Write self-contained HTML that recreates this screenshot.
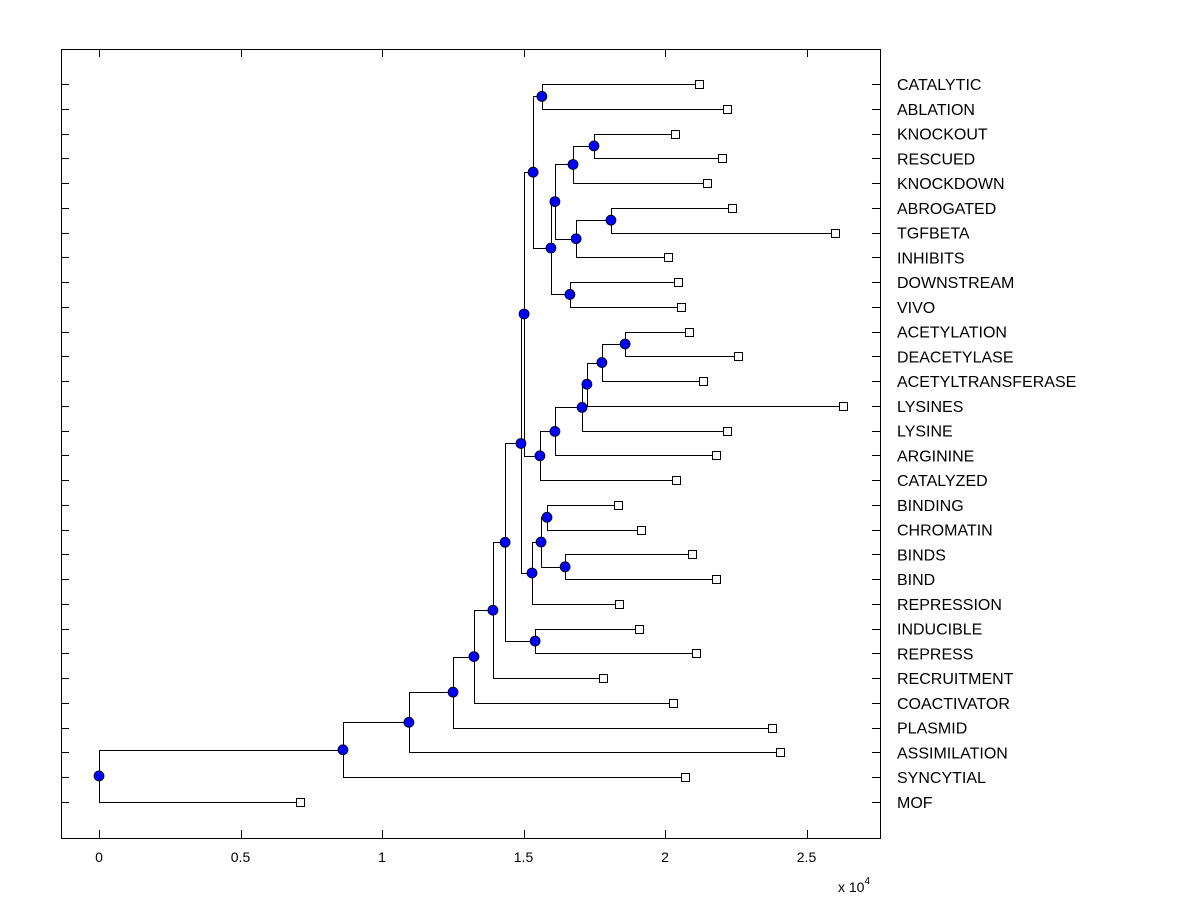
<!DOCTYPE html>
<html><head><meta charset="utf-8"><style>
html,body{margin:0;padding:0;background:#fff}
svg text{font-family:"Liberation Sans",Arial,sans-serif;fill:#000}
</style></head><body>
<svg id="chart" width="1200" height="900" viewBox="0 0 1200 900" xmlns="http://www.w3.org/2000/svg">
<rect x="0" y="0" width="1200" height="900" fill="#fff"/>
<g id="ticks"></g>
<g id="links"></g>
<g id="marks"></g>
<g id="labels"></g>
<rect x="61.5" y="49.5" width="819" height="789" fill="none" stroke="#000" stroke-width="1"/>
<text x="838" y="892" font-size="14">x 10<tspan dy="-8" font-size="10">4</tspan></text>
</svg>
<script>
const leafNames = ["CATALYTIC","ABLATION","KNOCKOUT","RESCUED","KNOCKDOWN","ABROGATED","TGFBETA","INHIBITS","DOWNSTREAM","VIVO","ACETYLATION","DEACETYLASE","ACETYLTRANSFERASE","LYSINES","LYSINE","ARGININE","CATALYZED","BINDING","CHROMATIN","BINDS","BIND","REPRESSION","INDUCIBLE","REPRESS","RECRUITMENT","COACTIVATOR","PLASMID","ASSIMILATION","SYNCYTIAL","MOF"];
const leafValues = [2.12,2.22,2.035,2.20,2.15,2.237,2.60,2.01,2.046,2.057,2.085,2.258,2.134,2.63,2.22,2.18,2.04,1.834,1.915,2.095,2.18,1.837,1.908,2.11,1.78,2.028,2.378,2.406,2.07,0.71];
const mergeLeft = [0,2,31,5,33,32,8,35,30,10,39,40,41,42,43,17,19,45,47,38,49,22,50,52,53,54,55,56,57];
const mergeRight = [1,3,4,6,7,34,9,36,37,11,12,13,14,15,16,18,20,46,21,44,48,23,51,24,25,26,27,28,29];
const mergeHeights = [1.565,1.749,1.675,1.809,1.686,1.611,1.664,1.597,1.534,1.859,1.777,1.724,1.707,1.611,1.558,1.583,1.647,1.562,1.530,1.502,1.491,1.541,1.435,1.392,1.325,1.251,1.095,0.862,0];
const xTicks = [0,0.5,1,1.5,2,2.5];
const xTickLabels = ["0","0.5","1","1.5","2","2.5"];

const NS="http://www.w3.org/2000/svg";
const X0=61,X1=880,Y0=49,Y1=838;
function xs(v){return 99+v*283;}
function ys(i){return 84+i*(802-84)/(leafNames.length-1);}
function mk(tag,attrs,parent){const e=document.createElementNS(NS,tag);for(const k in attrs)e.setAttribute(k,attrs[k]);document.getElementById(parent).appendChild(e);return e;}

const N=leafNames.length;
const nx=[],ny=[];
for(let i=0;i<N;i++){nx[i]=xs(leafValues[i]);ny[i]=ys(i);}
for(let m=0;m<mergeHeights.length;m++){const id=N+m;nx[id]=xs(mergeHeights[m]);ny[id]=(ny[mergeLeft[m]]+ny[mergeRight[m]])/2;}

// ticks
for(let i=0;i<N;i++){
  const y=Math.round(ys(i))+0.5;
  let t=mk('line',{x1:X0,x2:X0+8,y1:y,y2:y,stroke:'#000'},'ticks');
  
  
  t=mk('line',{x1:X1-8,x2:X1,y1:y,y2:y,stroke:'#000'},'ticks');
  
  
  const l=mk('text',{x:897,y:ys(i)+6,'font-size':16},'labels');
  l.textContent=leafNames[i];
  
  
}
xTicks.forEach((v,k)=>{
  const x=Math.round(xs(v))+0.5;
  let t=mk('line',{x1:x,x2:x,y1:Y0,y2:Y0+8,stroke:'#000'},'ticks');
  
  
  t=mk('line',{x1:x,x2:x,y1:Y1-8,y2:Y1,stroke:'#000'},'ticks');
  
  
  const l=mk('text',{x:xs(v),y:862,'font-size':14,'text-anchor':'middle'},'labels');
  l.textContent=xTickLabels[k];
  
  
});

// links
for(let m=0;m<mergeHeights.length;m++){
  const id=N+m,a=mergeLeft[m],b=mergeRight[m];
  const x=Math.round(nx[id])+0.5;
  const ya=Math.round(ny[a])+0.5,yb=Math.round(ny[b])+0.5;
  const p=mk('path',{d:`M${Math.round(nx[a])+0.5},${ya}H${x}V${yb}H${Math.round(nx[b])+0.5}`,fill:'none',stroke:'#000','stroke-width':1},'links');
  
  
}
for(let i=0;i<N;i++){
  const r=mk('rect',{x:Math.round(nx[i])-4+0.5,y:Math.round(ny[i])-4+0.5,width:8,height:8,fill:'#fff',stroke:'#000'},'marks');
  
  
}
for(let m=0;m<mergeHeights.length;m++){
  const id=N+m;
  const c=mk('circle',{cx:nx[id],cy:ny[id],r:5,fill:'#0000ff',stroke:'#000','stroke-width':0.8},'marks');
  
  
}
</script>
</body></html>
